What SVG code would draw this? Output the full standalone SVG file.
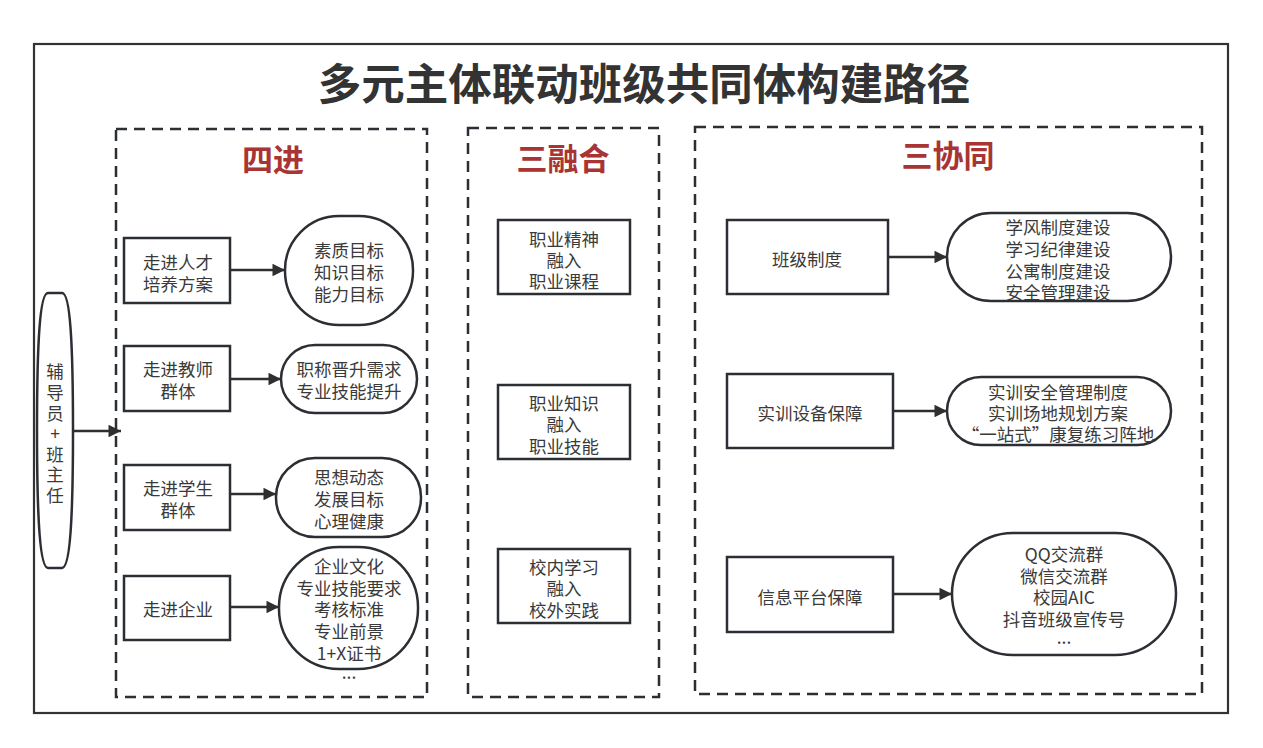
<svg xmlns="http://www.w3.org/2000/svg" width="1263" height="748" viewBox="0 0 1263 748">
<defs>
<style>
.t{font-family:"Noto Sans CJK SC","Microsoft YaHei",sans-serif;font-size:17.5px;fill:#3a3a3a;text-anchor:middle;dominant-baseline:central}
.h{font-family:"Noto Sans CJK SC",sans-serif;font-size:31px;font-weight:bold;fill:#a83434;text-anchor:middle;dominant-baseline:central}
.title{font-family:"Noto Sans CJK SC",sans-serif;font-size:43.5px;font-weight:bold;fill:#333;text-anchor:middle;dominant-baseline:central}
.box{fill:#fff;stroke:#2b2f33;stroke-width:2.5}
.dash{fill:none;stroke:#2b2f33;stroke-width:2.5;stroke-dasharray:11 7}
.ln{fill:none;stroke:#2f2f2f;stroke-width:2.5}
</style>
<marker id="ar" viewBox="0 0 10 10" refX="10" refY="5" markerWidth="6" markerHeight="5" markerUnits="strokeWidth" orient="auto">
<path d="M0,0 L10,5 L0,10 Z" fill="#2f2f2f"/>
</marker>
</defs>
<rect width="1263" height="748" fill="#fff"/>
<rect x="34" y="44" width="1194" height="669" fill="none" stroke="#333" stroke-width="2.2"/>
<text class="title" x="644" y="81">多元主体联动班级共同体构建路径</text>

<g id="group-sijin">
<rect class="dash" x="116" y="129" width="311" height="568"/>
<text class="h" x="273" y="157">四进</text>
</g>
<g id="group-sanronghe">
<rect class="dash" x="468" y="128" width="191" height="569"/>
<text class="h" x="563" y="156">三融合</text>
</g>
<g id="group-sanxietong">
<rect class="dash" x="695" y="127" width="507" height="567"/>
<text class="h" x="948" y="153">三协同</text>
</g>

<g id="node-fudaoyuan">
<path class="box" d="M48,293 H62 C70,293 73,340 73,430 C73,520 70,568 62,568 H48 C40,568 37,520 37,430 C37,340 40,293 48,293 Z"/>
<text class="t" x="55" y="370">辅</text>
<text class="t" x="55" y="391">导</text>
<text class="t" x="55" y="412">员</text>
<text class="t" x="55" y="432">+</text>
<text class="t" x="55" y="453">班</text>
<text class="t" x="55" y="473">主</text>
<text class="t" x="55" y="494">任</text>
</g>

<g id="node-rencai">
<rect class="box" x="124" y="238" width="106" height="65"/>
<text class="t" x="178" y="261">走进人才</text>
<text class="t" x="178" y="283">培养方案</text>
</g>
<g id="node-mubiao">
<rect class="box" x="285" y="216" width="128" height="109" rx="54" ry="54"/>
<text class="t" x="349" y="249">素质目标</text>
<text class="t" x="349" y="271">知识目标</text>
<text class="t" x="349" y="293">能力目标</text>
</g>
<g id="node-jiaoshi">
<rect class="box" x="124" y="346" width="106" height="65"/>
<text class="t" x="178" y="368">走进教师</text>
<text class="t" x="178" y="390">群体</text>
</g>
<g id="node-zhicheng">
<rect class="box" x="281" y="345" width="136" height="68" rx="34" ry="34"/>
<text class="t" x="349" y="368">职称晋升需求</text>
<text class="t" x="349" y="390">专业技能提升</text>
</g>
<g id="node-xuesheng">
<rect class="box" x="124" y="465" width="106" height="65"/>
<text class="t" x="178" y="487">走进学生</text>
<text class="t" x="178" y="509">群体</text>
</g>
<g id="node-sixiang">
<rect class="box" x="276" y="458" width="145" height="79" rx="39" ry="39"/>
<text class="t" x="349" y="476">思想动态</text>
<text class="t" x="349" y="498">发展目标</text>
<text class="t" x="349" y="520">心理健康</text>
</g>
<g id="node-qiye">
<rect class="box" x="124" y="576" width="106" height="64"/>
<text class="t" x="178" y="608">走进企业</text>
</g>
<g id="node-qiyewenhua">
<rect class="box" x="279" y="547" width="139" height="122" rx="60" ry="60"/>
<text class="t" x="349" y="565">企业文化</text>
<text class="t" x="349" y="587">专业技能要求</text>
<text class="t" x="349" y="608">考核标准</text>
<text class="t" x="349" y="630">专业前景</text>
<text class="t" x="349" y="652">1+X证书</text>
<text class="t" x="349" y="671">...</text>
</g>

<g id="node-jingshen">
<rect class="box" x="498" y="220" width="132" height="74"/>
<text class="t" x="564" y="238">职业精神</text>
<text class="t" x="564" y="259">融入</text>
<text class="t" x="564" y="280">职业课程</text>
</g>
<g id="node-zhishi">
<rect class="box" x="498" y="385" width="132" height="74"/>
<text class="t" x="564" y="402">职业知识</text>
<text class="t" x="564" y="423">融入</text>
<text class="t" x="564" y="445">职业技能</text>
</g>
<g id="node-xiaonei">
<rect class="box" x="498" y="549" width="132" height="74"/>
<text class="t" x="564" y="566">校内学习</text>
<text class="t" x="564" y="587">融入</text>
<text class="t" x="564" y="609">校外实践</text>
</g>

<g id="node-banji">
<rect class="box" x="727" y="220" width="161" height="74"/>
<text class="t" x="807" y="258">班级制度</text>
</g>
<g id="node-xuefeng">
<rect class="box" x="947" y="213" width="224" height="88" rx="44" ry="44"/>
<text class="t" x="1058" y="226">学风制度建设</text>
<text class="t" x="1058" y="248">学习纪律建设</text>
<text class="t" x="1058" y="270">公寓制度建设</text>
<text class="t" x="1058" y="291">安全管理建设</text>
</g>
<g id="node-shixun">
<rect class="box" x="727" y="374" width="166" height="74"/>
<text class="t" x="810" y="412">实训设备保障</text>
</g>
<g id="node-shixunanquan">
<rect class="box" x="947" y="377" width="224" height="68" rx="34" ry="34"/>
<text class="t" x="1058" y="391">实训安全管理制度</text>
<text class="t" x="1058" y="412">实训场地规划方案</text>
<text class="t" x="1058" y="433">“一站式”康复练习阵地</text>
</g>
<g id="node-xinxi">
<rect class="box" x="727" y="557" width="166" height="75"/>
<text class="t" x="810" y="596">信息平台保障</text>
</g>
<g id="node-qq">
<rect class="box" x="952" y="533" width="224" height="122" rx="61" ry="61"/>
<text class="t" x="1064" y="553">QQ交流群</text>
<text class="t" x="1064" y="575">微信交流群</text>
<text class="t" x="1064" y="596">校园AIC</text>
<text class="t" x="1064" y="618">抖音班级宣传号</text>
<text class="t" x="1064" y="636">...</text>
</g>

<g id="connectors">
<line class="ln" x1="73" y1="431" x2="121" y2="431" marker-end="url(#ar)"/>
<line class="ln" x1="230" y1="270" x2="285" y2="270" marker-end="url(#ar)"/>
<line class="ln" x1="230" y1="379" x2="281" y2="379" marker-end="url(#ar)"/>
<line class="ln" x1="230" y1="494" x2="276" y2="494" marker-end="url(#ar)"/>
<line class="ln" x1="230" y1="607" x2="279" y2="607" marker-end="url(#ar)"/>
<line class="ln" x1="888" y1="257" x2="947" y2="257" marker-end="url(#ar)"/>
<line class="ln" x1="893" y1="411" x2="947" y2="411" marker-end="url(#ar)"/>
<line class="ln" x1="893" y1="594" x2="952" y2="594" marker-end="url(#ar)"/>
</g>
</svg>
